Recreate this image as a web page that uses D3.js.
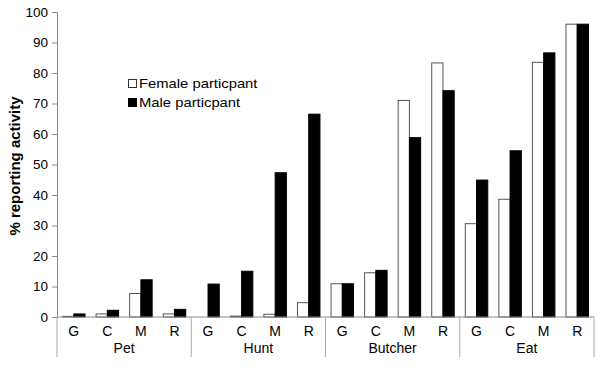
<!DOCTYPE html>
<html><head><meta charset="utf-8">
<script src="https://cdn.jsdelivr.net/npm/d3@7"></script>
<style>body{margin:0;background:#fff}svg{display:block}text{font-family:"Liberation Sans",Arial,sans-serif;fill:#000}</style>
</head><body><svg id="c" width="600" height="370"></svg>
<script>
const groups = ["Pet","Hunt","Butcher","Eat"];
const subCats = ["G","C","M","R"];
const seriesNames = ["Female particpant","Male particpant"];
const female = [0.2,1.0,7.7,1.0, 0,0.3,0.9,4.7, 10.9,14.5,71.0,83.3, 30.6,38.6,83.5,96.0];
const male   = [1.0,2.2,12.2,2.5, 10.8,15.0,47.3,66.5, 10.9,15.3,58.8,74.2, 44.9,54.5,86.6,96.0];
const yTicks = [0,10,20,30,40,50,60,70,80,90,100];
const yTitle = "% reporting activity";

const svg = d3.select("#c");
const L=57, R=594, T=12, B=317;
const cats = [];
groups.forEach(g=>subCats.forEach(s=>cats.push(g+"|"+s)));
const x = d3.scaleBand().domain(cats).range([L,R]).paddingInner(0.33).paddingOuter(0.165);
const xc = d3.scaleBand().domain(cats).range([L,R]);
const gx = d3.scaleBand().domain(groups).range([L,R]);
const y = d3.scaleLinear().domain([0,100]).range([B,T]);
const axisColor="#8a8a8a";

// y axis
const ya = svg.append("g").attr("transform",`translate(${L},0)`)
  .call(d3.axisLeft(y).tickValues(yTicks).tickSize(5).tickPadding(4));
ya.select(".domain").attr("stroke",axisColor);
ya.selectAll(".tick line").attr("stroke",axisColor);
ya.selectAll(".tick text").attr("font-size",13.5).attr("font-family","Liberation Sans, Arial, sans-serif").attr("fill","#000");

// bars
const bw = x.bandwidth()/2;
cats.forEach((c,i)=>{
  svg.append("rect").attr("x",x(c)).attr("y",y(female[i])).attr("width",bw).attr("height",B-y(female[i]))
    .attr("fill","#fff").attr("stroke","#555").attr("stroke-width",1);
  svg.append("rect").attr("x",x(c)+bw).attr("y",y(male[i])).attr("width",bw).attr("height",B-y(male[i]))
    .attr("fill","#000").attr("stroke","#000").attr("stroke-width",1);
});

// x axis line
svg.append("line").attr("x1",L).attr("x2",R).attr("y1",B).attr("y2",B).attr("stroke",axisColor);
// group separators
groups.forEach(g=>{
  svg.append("line").attr("x1",gx(g)).attr("x2",gx(g)).attr("y1",B).attr("y2",357).attr("stroke","#aaa");
});
svg.append("line").attr("x1",R).attr("x2",R).attr("y1",B).attr("y2",357).attr("stroke","#aaa");
// sub labels
cats.forEach(c=>{
  svg.append("text").attr("x",xc(c)+xc.bandwidth()/2).attr("y",336).attr("text-anchor","middle")
    .attr("font-size",14).text(c.split("|")[1]);
});
groups.forEach(g=>{
  svg.append("text").attr("x",gx(g)+gx.bandwidth()/2).attr("y",353).attr("text-anchor","middle")
    .attr("font-size",14).text(g);
});
// y title
svg.append("text").attr("transform",`translate(20,166) rotate(-90)`).attr("text-anchor","middle")
  .attr("font-size",15).attr("font-weight","bold").text(yTitle);

// legend
seriesNames.forEach((n,i)=>{
  const yy = 79 + i*19;
  svg.append("rect").attr("x",128.5).attr("y",yy+0.5).attr("width",8).attr("height",8)
    .attr("fill",i?"#000":"#fff").attr("stroke",i?"#000":"#333");
  svg.append("text").attr("transform",`translate(139,${yy+8.5}) scale(1.14,1)`).attr("font-size",13).text(n);
});
</script></body></html>
